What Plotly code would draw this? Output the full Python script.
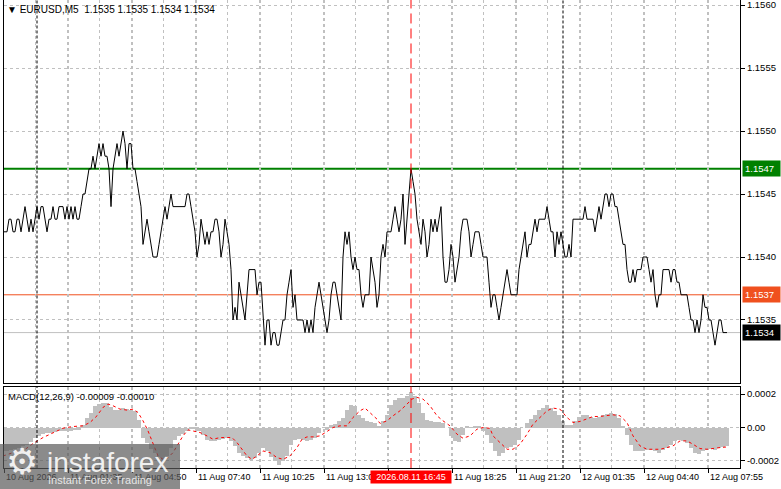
import plotly.graph_objects as go

# EURUSD M5 close prices, one per bar, in pips above 1.1500
close_pips = [
    42, 42, 42, 43, 43, 42, 42, 43, 43, 42,
    43, 44, 43, 42, 43, 42, 43, 44, 43, 44,
    44, 43, 42, 43, 43, 44, 43, 43, 44, 44,
    44, 43, 44, 43, 44, 43, 44, 43, 43, 44,
    45, 45, 46, 47, 47, 48, 47, 48, 49, 48,
    49, 48, 48, 47, 44, 47, 48, 49, 48, 49,
    50, 49, 47, 49, 49, 47, 47, 46, 45, 44,
    41, 42, 43, 42, 41, 40, 40, 40, 41, 42,
    43, 44, 43, 44, 45, 44, 44, 44, 44, 44,
    44, 44, 45, 45, 44, 43, 42, 40, 41, 43,
    42, 41, 42, 41, 42, 42, 43, 43, 42, 40,
    41, 43, 42, 41, 39, 35, 36, 35, 38, 37,
    36, 35, 37, 39, 39, 39, 39, 37, 38, 38,
    35, 33, 35, 35, 33, 34, 34, 33, 33, 34,
    35, 35, 37, 38, 39, 36, 37, 35, 35, 35,
    35, 34, 35, 34, 35, 34, 36, 37, 38, 37,
    36, 35, 34, 35, 37, 38, 38, 37, 36, 35,
    40, 42, 41, 42, 40, 39, 40, 39, 39, 37,
    36, 37, 37, 37, 40, 39, 38, 36, 37, 40,
    41, 40, 42, 42, 42, 43, 44, 43, 42, 43,
    45, 41, 43, 45, 47, 46, 45, 43, 42, 41,
    43, 42, 40, 41, 43, 42, 43, 42, 43, 44,
    40, 38, 38, 39, 41, 40, 38, 39, 40, 42,
    43, 43, 43, 42, 40, 41, 42, 42, 42, 41,
    40, 40, 40, 38, 36, 37, 37, 36, 35, 36,
    37, 38, 39, 38, 37, 37, 37, 37, 39, 40,
    41, 42, 40, 41, 41, 42, 43, 42, 43, 43,
    43, 43, 44, 43, 42, 42, 40, 42, 41, 42,
    41, 40, 40, 41, 40, 43, 43, 43, 43, 43,
    43, 44, 43, 43, 43, 43, 42, 43, 44, 43,
    44, 45, 45, 44, 45, 45, 44, 44, 43, 42,
    41, 41, 39, 38, 38, 39, 38, 39, 39, 39,
    40, 40, 40, 39, 38, 39, 37, 36, 37, 37,
    39, 39, 39, 39, 38, 39, 39, 38, 38, 37,
    37, 37, 37, 36, 35, 35, 34, 35, 34, 35,
    37, 36, 36, 35, 35, 34, 33, 34, 35, 35,
    34, 34, 34,
]
bars = list(range(len(close_pips)))
close = [round(1.15 + p / 10000, 4) for p in close_pips]

# MACD(12,26,9) histogram, read every 2 bars, in units of 0.0001
hist_bars = list(range(0, 363, 2))
hist_vals = [
    -1.4, -1.4, -1.3, -1.25, -1.2, -1.1, -1.0, -0.85, -0.6, -0.45,
    -0.35, -0.3, -0.3, -0.25, -0.2, -0.2, -0.2, -0.15, -0.12, -0.1,
    0.2, 0.6, 0.9, 1.3, 1.45, 1.5, 1.5, 1.25, 1.1, 1.1,
    1.2, 1.15, 1.1, 1.0, 0.5, -0.6, -0.9, -1.25, -1.5, -1.75,
    -1.9, -1.7, -1.2, -0.7, -0.5, -0.35, -0.15, -0.08, -0.05, -0.15,
    -0.4, -0.7, -0.8, -0.75, -0.7, -0.65, -0.6, -0.8, -1.1, -1.5,
    -1.7, -1.8, -1.9, -1.8, -1.5, -1.2, -1.4, -1.75, -2.0, -2.2,
    -2.0, -1.7, -1.0, -0.7, -0.65, -0.7, -0.76, -0.7, -0.6, -0.3,
    0.0, -0.1, 0.15, 0.25, 0.4, 0.6, 1.1, 1.36, 1.3, 0.8,
    0.6, 0.4, 0.37, 0.3, 0.1, 0.4, 0.8, 1.4, 1.65, 1.8,
    1.8, 1.9, 2.16, 1.9, 1.5, 0.9, 0.5, 0.4, 0.38, 0.36,
    0.3, 0.0, -0.5, -0.8, -0.85, -0.4, 0.1, 0.04, 0.08, 0.1,
    -0.2, -0.4, -0.9, -1.35, -1.65, -1.5, -1.2, -1.15, -1.0, -0.7,
    0.0, 0.3, 0.55, 0.8, 1.05, 1.2, 1.36, 1.2, 1.0, 0.75,
    0.4, 0.2, 0.15, 0.4, 0.65, 0.76, 0.76, 0.68, 0.6, 0.68,
    0.76, 0.84, 0.9, 0.85, 0.6, 0.1, -0.4, -1.0, -1.35, -1.4,
    -1.36, -1.3, -1.3, -1.38, -1.48, -1.3, -1.2, -1.0, -0.8, -0.7,
    -0.8, -0.9, -1.2, -1.5, -1.56, -1.4, -1.3, -1.26, -1.34, -1.22,
    -1.16, -1.1,
]

# signal line (red dotted), units of 0.0001
signal_bars = [
    0, 5, 10, 15, 20, 25, 30, 35, 40, 43.5, 47, 50, 52.5, 55, 58.5, 62, 65,
    67.5, 70, 72.5, 75, 77.5, 80, 82.5, 85, 87.5, 90, 92.5, 95, 98.5, 102,
    105, 108.5, 112, 114.5, 117, 119.5, 122, 124.5, 127, 130, 133.5, 137,
    140, 143.5, 147, 149.5, 152, 155, 158.5, 162, 165, 168.5, 172, 175,
    178.5, 181, 183.5, 187, 188.5, 192, 195, 198.5, 202, 204.5, 207, 210,
    213.5, 217, 220, 223.5, 227, 230, 233.5, 237, 240, 243.5, 245, 248.5,
    252, 255, 258.5, 262, 265, 268.5, 272, 275, 278.5, 282, 285, 288.5,
    292, 295, 298.5, 302, 305, 308.5, 312, 315, 318.5, 322, 325, 328.5,
    332, 335, 338.5, 342, 345, 348.5, 352, 355, 358.5, 362,
]
signal_vals = [
    -1.7, -1.5, -1.4, -0.96, -0.6, -0.3, -0.04, 0.06, 0.1, 0.3, 0.7, 1.2,
    1.4, 1.3, 1.1, 1.04, 1.1, 0.9, 0.4, -0.2, -1.0, -1.7, -1.9, -1.8, -1.5,
    -1.0, -0.5, -0.14, -0.2, -0.3, -0.5, -0.7, -0.6, -0.6, -0.6, -0.9,
    -1.3, -1.7, -1.9, -1.7, -1.4, -1.5, -1.8, -1.9, -1.7, -1.2, -0.7,
    -0.56, -0.56, -0.5, -0.24, 0.0, 0.1, 0.1, 0.6, 1.0, 1.16, 0.9, 0.5,
    0.24, 0.4, 0.7, 1.0, 1.4, 1.7, 1.8, 1.7, 1.3, 0.7, 0.4, 0.1, -0.4,
    -0.64, -0.5, -0.1, 0.0, -0.05, -0.5, -0.9, -1.3, -1.3, -1.0, -0.4,
    0.2, 0.6, 1.0, 1.16, 1.1, 0.6, 0.3, 0.36, 0.5, 0.66, 0.66, 0.7, 0.76,
    0.7, 0.3, -0.5, -1.1, -1.3, -1.3, -1.3, -1.2, -1.1, -0.8, -0.8, -1.0,
    -1.26, -1.3, -1.24, -1.2, -1.16,
]

price_ticks = [1.1535, 1.1540, 1.1545, 1.1550, 1.1555, 1.1560]
macd_ticks = [0.0002, 0.0, -0.0002]
macd_tick_text = ["0.0002", "0.00", "-0.0002"]

time_label_bars = [0.5, 32.5, 64.5, 96.5, 128.5, 160.5, 224.5, 256.5, 288.5, 320.5, 352.5]
time_labels = ["10 Aug 2026", "11 Aug 01:35", "11 Aug 04:50", "11 Aug 07:40",
               "11 Aug 10:25", "11 Aug 13:05", "11 Aug 18:25", "11 Aug 21:20",
               "12 Aug 01:35", "12 Aug 04:40", "12 Aug 07:55"]
cursor_bar = 204
cursor_label = "2026.08.11 16:45"
day_breaks = [17, 280]

resistance = 1.1547
support = 1.1537
bid = 1.1534

FONT = "Liberation Sans, Arial, sans-serif"
GRID = "#C0C0C0"

fig = go.Figure()

fig.add_trace(go.Scatter(x=bars, y=close, mode="lines",
                         line=dict(color="black", width=1),
                         xaxis="x", yaxis="y", hoverinfo="skip"))

fig.add_trace(go.Bar(x=hist_bars, y=[v / 10000 for v in hist_vals], width=2,
                     marker=dict(color="#C0C0C0", line=dict(width=0)),
                     xaxis="x2", yaxis="y2", hoverinfo="skip"))

fig.add_trace(go.Scatter(x=signal_bars, y=[v / 10000 for v in signal_vals],
                         mode="lines", line=dict(color="red", width=1, dash="3px,3px"),
                         xaxis="x2", yaxis="y2", hoverinfo="skip"))

xcommon = dict(range=[0.5, 368.5], showticklabels=False, zeroline=False,
               showgrid=True, gridcolor=GRID, griddash="3px,3px", gridwidth=1,
               tick0=0.5, dtick=32, automargin=False,
               minor=dict(dtick=16, showgrid=True, gridcolor=GRID,
                          griddash="3px,3px", gridwidth=1),
               showline=True, linecolor="black", linewidth=1)

ycommon = dict(side="right", zeroline=False, showgrid=True, gridcolor=GRID,
               griddash="3px,3px", gridwidth=1, ticks="outside", ticklen=4,
               tickcolor="black", showline=True, linecolor="black",
               linewidth=1, mirror=True, automargin=False,
               ticklabeloverflow="allow",
               tickfont=dict(family=FONT, size=9.5, color="black"))

fig.update_layout(
    width=781, height=489,
    margin=dict(l=4, r=41, t=0, b=21),
    paper_bgcolor="white", plot_bgcolor="white",
    showlegend=False, bargap=0,
    xaxis=dict(domain=[0, 1], anchor="y", ticks="", mirror=False, **xcommon),
    xaxis2=dict(domain=[0, 1], anchor="y2", matches="x", ticks="outside",
                ticklen=4, tickcolor="black", mirror=True, **xcommon),
    yaxis=dict(domain=[0.1806, 1], range=[1.152996, 1.15604],
               tickvals=price_ticks, ticktext=[f"{t:.4f}" for t in price_ticks],
               **ycommon),
    yaxis2=dict(domain=[0, 0.1741], range=[-0.000242, 0.000245],
                tickvals=macd_ticks, ticktext=macd_tick_text, **ycommon),
)

# level lines
for lvl, col, w in [(resistance, "#008000", 2), (support, "#F0501E", 1), (bid, "#C0C0C0", 1)]:
    fig.add_shape(type="line", xref="paper", yref="y", x0=0, x1=1, y0=lvl, y1=lvl,
                  line=dict(color=col, width=w), layer="below")

# day separators and cursor line through both panels
for yd in ["y domain", "y2 domain"]:
    for b in day_breaks:
        fig.add_shape(type="line", xref="x", yref=yd, x0=b, x1=b, y0=0, y1=1,
                      line=dict(color="black", width=1, dash="3px,2px"), layer="above")
    fig.add_shape(type="line", xref="x", yref=yd, x0=cursor_bar, x1=cursor_bar, y0=0, y1=1,
                  line=dict(color="red", width=1, dash="10px,5px"), layer="above")

# price labels on right scale
for lvl, bg, fg in [(resistance, "#008000", "white"), (support, "#F0501E", "white"), (bid, "black", "white")]:
    fig.add_annotation(xref="paper", yref="y", x=1, y=lvl, xanchor="left", yanchor="middle",
                       xshift=2, text=f"{lvl:.4f}", showarrow=False, bgcolor=bg,
                       borderpad=2, width=33, align="left",
                       font=dict(family=FONT, size=9.5, color=fg))

# time labels
for b, t in zip(time_label_bars, time_labels):
    fig.add_annotation(xref="x", yref="paper", x=b, y=0, xanchor="left", yanchor="top",
                       xshift=0, yshift=-2, text=t, showarrow=False,
                       font=dict(family=FONT, size=9, color="black"))
fig.add_annotation(xref="x", yref="paper", x=cursor_bar, y=0, xanchor="center", yanchor="top",
                   yshift=-2, text=cursor_label, showarrow=False, bgcolor="#FF0000",
                   borderpad=1, width=78, font=dict(family=FONT, size=9, color="white"))

# panel captions
fig.add_annotation(xref="paper", yref="paper", x=0.002, y=1, xanchor="left", yanchor="top",
                   yshift=-2, text="\u25bc EURUSD,M5  1.1535 1.1535 1.1534 1.1534",
                   showarrow=False, font=dict(family=FONT, size=10, color="black"))
fig.add_annotation(xref="paper", yref="paper", x=0.003, y=0.1741, xanchor="left", yanchor="top",
                   yshift=-2, text="MACD(12,26,9) -0.00009 -0.00010",
                   showarrow=False, font=dict(family=FONT, size=9.5, color="black"))

# watermark
fig.add_annotation(xref="paper", yref="paper", x=-4 / 736, y=-21 / 468, xanchor="left",
                   yanchor="bottom", text=" ", showarrow=False, width=180, height=45,
                   bgcolor="rgba(90,90,90,0.7)", borderpad=0, borderwidth=0)
fig.add_annotation(xref="paper", yref="paper", x=0, y=7 / 468, xanchor="left",
                   yanchor="middle", text="\u2699", showarrow=False,
                   font=dict(family="DejaVu Sans", size=36, color="rgba(255,255,255,0.9)"))
fig.add_annotation(xref="paper", yref="paper", x=41 / 736, y=6 / 468, xanchor="left",
                   yanchor="middle", text="instaforex", showarrow=False,
                   font=dict(family=FONT, size=28, color="rgba(255,255,255,0.9)"))
fig.add_annotation(xref="paper", yref="paper", x=42 / 736, y=-12 / 468, xanchor="left",
                   yanchor="middle", text="Instant Forex Trading", showarrow=False,
                   font=dict(family=FONT, size=11, color="rgba(255,255,255,0.8)"))

# the page's default 8px body margin would push the chart out of the window
fig.write_html("out.html", config={"displayModeBar": False},
               post_script="document.body.style.margin='0px';")
